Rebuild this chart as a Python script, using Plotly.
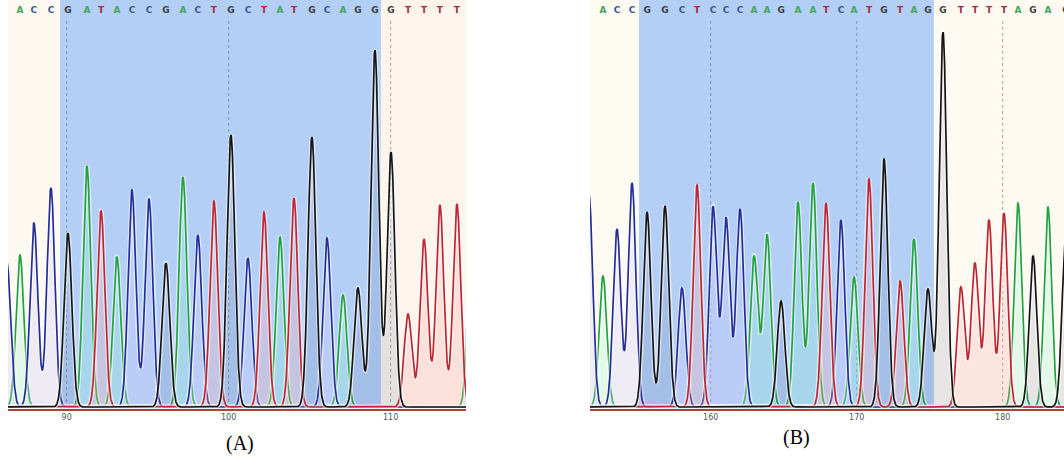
import numpy as np
import plotly.graph_objects as go

# ---------------- data ----------------
# Panel A: peak positions (base index), base calls, peak heights (signal)
a_pos = [86.31, 87.12, 87.98, 89.03, 90.08, 91.25, 92.12, 93.10, 94.03, 95.08,
         96.13, 97.18, 98.10, 99.09, 100.14, 101.19, 102.18, 103.17, 104.03, 105.14,
         106.07, 107.06, 107.98, 109.03, 110.02, 111.07, 112.06, 113.04, 114.09, 115.02]
a_base = "CACCGATACCGACTGCTATGCAGGGTTTTA"
a_height = [145, 152, 184, 219, 174, 241, 196, 150, 217, 208,
            144, 230, 172, 206, 272, 149, 195, 170, 209, 270,
            169, 112, 119, 357, 255, 93, 168, 202, 203, 200]
a_range = [86.38, 114.65]
a_ticks = [90, 100, 110]
a_highlight = [89.59, 109.40]

# Panel B
b_pos = [151.66, 152.62, 153.58, 154.61, 155.64, 156.87, 158.03, 159.06, 160.16, 161.05,
         162.01, 162.97, 163.86, 164.82, 165.98, 167.01, 167.90, 168.92, 169.82, 170.84,
         171.87, 172.97, 173.92, 174.88, 175.91, 177.14, 178.10, 179.06, 180.09, 181.05,
         182.08, 183.10, 184.34]
b_base = "CACCGGCTCCCAAGAATCATGTAGGTTTTAGAG"
b_height = [212, 131, 178, 224, 195, 201, 119, 222, 200, 189,
            198, 151, 172, 106, 205, 224, 204, 187, 130, 228,
            248, 126, 168, 118, 375, 120, 144, 187, 194, 204,
            151, 200, 177]
b_range = [151.73, 184.2]
b_ticks = [160, 170, 180]
b_highlight = [155.09, 175.29]

captions = ["(A)", "(B)"]

# ---------------- styles ----------------
base_colors = {"A": "rgb(34,163,62)", "C": "rgb(36,46,152)",
               "G": "rgb(22,22,22)", "T": "rgb(192,38,48)"}
fill_colors = {"A": "rgba(120,240,200,0.20)", "C": "rgba(205,200,255,0.28)",
               "G": "rgba(60,80,130,0.12)", "T": "rgba(250,170,170,0.26)"}
letter_colors = {"A": "rgb(70,165,95)", "C": "rgb(60,85,150)",
                 "G": "rgb(60,60,60)", "T": "rgb(160,45,65)"}

W, H = 1064, 461
panels = [
    dict(pos=a_pos, base=a_base, h=a_height, rng=a_range, ticks=a_ticks, hl=a_highlight,
         sigma=0.24, dom=[8 / W, 466 / W], left_bg="#fdf9f1", right_bg="#fdf4ec",
         cap=captions[0], capx=240 / W, capy=(H - 443) / H),
    dict(pos=b_pos, base=b_base, h=b_height, rng=b_range, ticks=b_ticks, hl=b_highlight,
         sigma=0.26, dom=[590 / W, 1.0], left_bg="#fdfaf2", right_bg="#fefaf2",
         cap=captions[1], capx=796 / W, capy=(H - 437) / H),
]

fig = go.Figure()
shapes = []
annotations = []
ydom = [(H - 408.5) / H, 1.0]
yr = [-1.5, 407]

for i, p in enumerate(panels):
    xa = "x" if i == 0 else "x2"
    ya = "y" if i == 0 else "y2"
    axn = "" if i == 0 else "2"
    x = np.linspace(p["rng"][0] - 1, p["rng"][1] + 1, 2500)
    pos = np.array(p["pos"])
    hts = np.array(p["h"], dtype=float)
    bases = np.array(list(p["base"]))

    # background regions
    shapes.append(dict(type="rect", xref=xa, yref=f"{ya} domain", x0=p["rng"][0] - 1, x1=p["hl"][0],
                       y0=0, y1=1, fillcolor=p["left_bg"], line_width=0, layer="below"))
    shapes.append(dict(type="rect", xref=xa, yref=f"{ya} domain", x0=p["hl"][0], x1=p["hl"][1],
                       y0=0, y1=1, fillcolor="#b3cff5", line_width=0, layer="below"))
    shapes.append(dict(type="rect", xref=xa, yref=f"{ya} domain", x0=p["hl"][1], x1=p["rng"][1] + 1,
                       y0=0, y1=1, fillcolor=p["right_bg"], line_width=0, layer="below"))
    for t in p["ticks"]:
        shapes.append(dict(type="line", xref=xa, yref=ya, x0=t, x1=t, y0=-1, y1=388,
                           line=dict(color="rgba(110,110,110,0.6)", width=1, dash="dot"),
                           layer="below"))

    for b in ["A", "C", "T", "G"]:
        m = bases == b
        y = np.zeros_like(x)
        for pp, hh in zip(pos[m], hts[m]):
            y += hh * np.exp(-(x - pp) ** 2 / (2 * p["sigma"] ** 2))
        fig.add_trace(go.Scatter(x=x, y=y, mode="lines", xaxis=xa, yaxis=ya,
                                 line=dict(color="rgba(0,0,0,0)", width=0),
                                 fill="tozeroy", fillcolor=fill_colors[b],
                                 hoverinfo="skip", showlegend=False))
        fig.add_trace(go.Scatter(x=x, y=y, mode="lines", xaxis=xa, yaxis=ya,
                                 line=dict(color="rgba(255,255,255,0.55)", width=4.5),
                                 hoverinfo="skip", showlegend=False))
        fig.add_trace(go.Scatter(x=x, y=y, mode="lines", xaxis=xa, yaxis=ya,
                                 line=dict(color=base_colors[b], width=1.7),
                                 hoverinfo="skip", showlegend=False))

    # base-call letters
    keep = pos >= p["rng"][0] + 0.3
    fig.add_trace(go.Scatter(x=pos[keep], y=[396] * int(keep.sum()), mode="text",
                             text=list(bases[keep]), xaxis=xa, yaxis=ya,
                             textfont=dict(family="DejaVu Sans", size=9, weight="bold",
                                           color=[letter_colors[c] for c in bases[keep]]),
                             hoverinfo="skip", showlegend=False))

    fig.update_layout(**{
        f"xaxis{axn}": dict(domain=p["dom"], range=p["rng"], anchor=ya, tickvals=p["ticks"],
                            showgrid=False, zeroline=False, showline=True, linecolor="#b0403a",
                            linewidth=1.5, ticks="", tickfont=dict(family="DejaVu Sans", size=8,
                                                                    color="#555"),
                            fixedrange=True),
        f"yaxis{axn}": dict(domain=ydom, range=yr, anchor=xa, visible=False, showgrid=False,
                            zeroline=False, fixedrange=True),
    })
    annotations.append(dict(text=p["cap"], x=p["capx"], y=p["capy"], xref="paper", yref="paper",
                            showarrow=False, xanchor="center", yanchor="middle",
                            font=dict(family="Liberation Serif", size=20, color="black")))

fig.update_layout(width=W, height=H, margin=dict(l=0, r=0, t=0, b=0),
                  paper_bgcolor="white", plot_bgcolor="white",
                  shapes=shapes, annotations=annotations, showlegend=False)
fig.write_html("out.html", config={"displayModeBar": False},
               post_script="document.body.style.margin='0';document.body.style.overflow='hidden';")
